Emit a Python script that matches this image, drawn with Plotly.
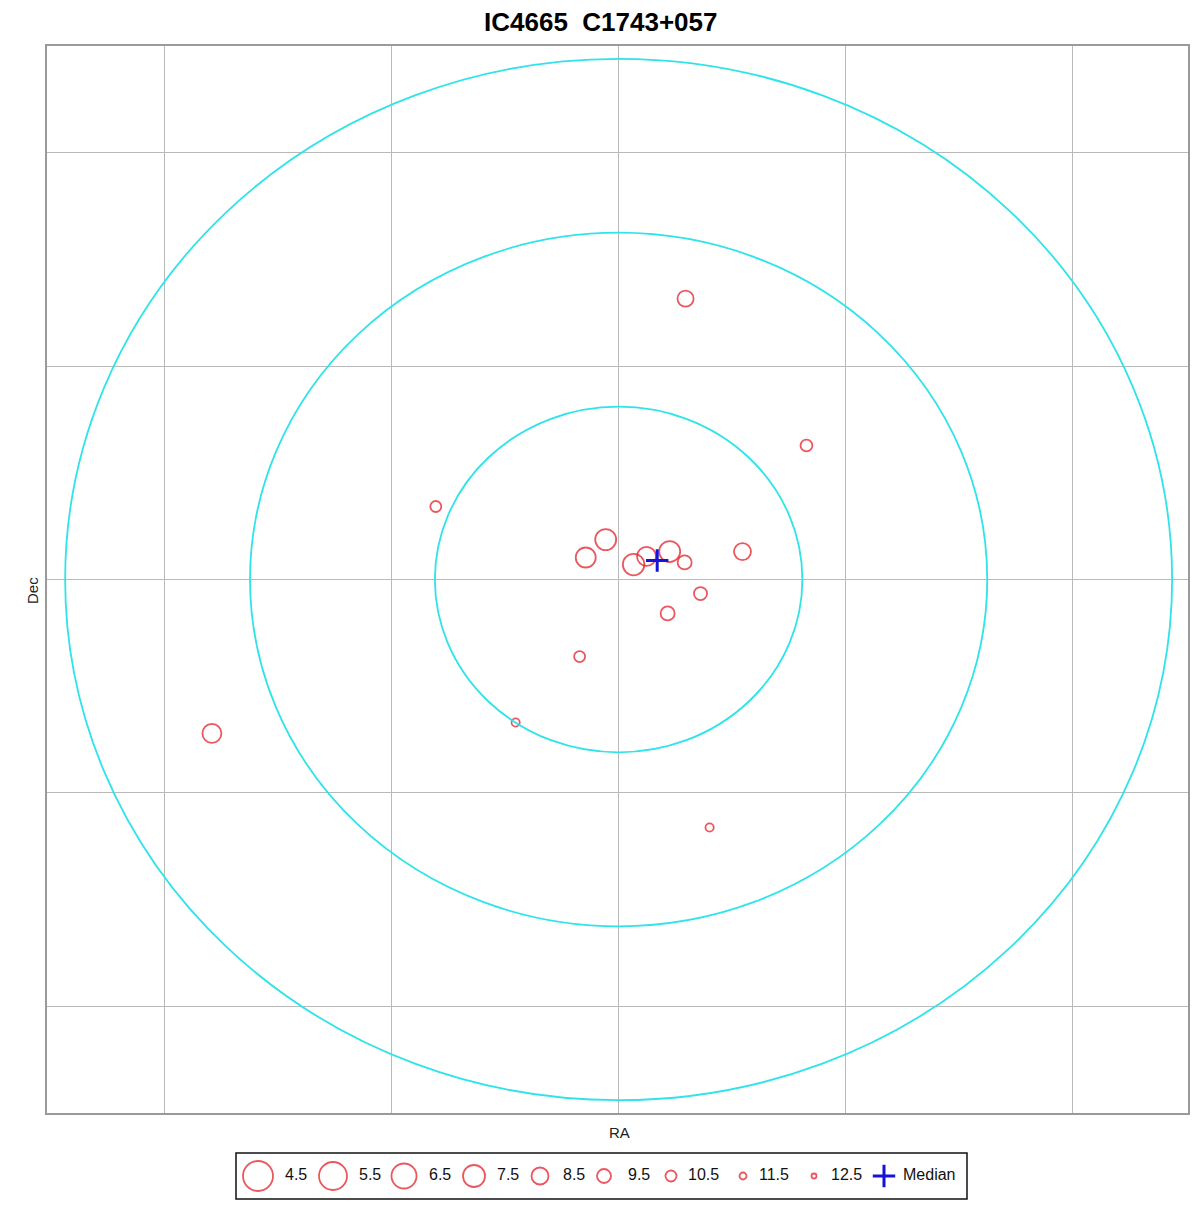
import numpy as np
import plotly.graph_objects as go

W, H = 1200, 1205
FONT = "Liberation Sans, Arial, sans-serif"
RED = "#e2101a"
CYAN = "#2ee3ea"
BLUE = "#1414d8"
GRID = "#b9b9b9"

TITLE = "IC4665&nbsp; C1743+057"

# star offsets from cluster centre (grid units) and V magnitudes
star_x = [-0.806, -0.057, -0.145, 0.066, 0.123, 0.225, 0.291, 0.546,
          0.361, 0.216, -0.172, 0.295, 0.828, -0.454, -1.793, 0.401]
star_y = [0.342, 0.187, 0.103, 0.070, 0.108, 0.131, 0.080, 0.131,
          -0.066, -0.159, -0.361, 1.316, 0.628, -0.670, -0.721, -1.162]
star_mag = [10.5, 7.7, 7.9, 7.6, 8.1, 7.7, 9.5, 8.5,
            9.8, 9.5, 10.5, 8.8, 10.2, 11.2, 8.1, 11.2]

median_x = [0.170]
median_y = [0.089]

ring_radii = [0.81, 1.625, 2.44]

legend_mags = [4.5, 5.5, 6.5, 7.5, 8.5, 9.5, 10.5, 11.5, 12.5]
legend_labels = ["4.5", "5.5", "6.5", "7.5", "8.5", "9.5", "10.5", "11.5", "12.5"]
# marker diameter (px) drawn for each legend magnitude
legend_diam = [30, 28, 25, 22, 17, 14, 11, 7, 5]

# legend layout (pixel positions)
LEG_GLYPH_X = [258, 333, 404, 474, 540, 604, 671, 743, 814]
LEG_TEXT_X = [285, 359, 429, 497, 563, 628, 688, 759, 831]
LEG_MED_X, LEG_MED_TEXT_X = 884, 903
LEG_BOX = (236, 1153, 967, 1199)

PLOT_L, PLOT_R, PLOT_T, PLOT_B = 47, 1188, 46, 1113


def mag_size(m):
    return np.interp(m, legend_mags, legend_diam)


fig = go.Figure()

fig.add_trace(go.Scatter(
    x=star_x, y=star_y, mode="markers",
    marker=dict(symbol="circle-open", size=mag_size(np.array(star_mag)),
                color=RED, line=dict(width=1.8, color=RED)),
    hoverinfo="skip", showlegend=False,
))
fig.add_trace(go.Scatter(
    x=median_x, y=median_y, mode="markers",
    marker=dict(symbol="cross-thin", size=16, line=dict(width=3, color=BLUE)),
    showlegend=False,
))

for r in ring_radii:
    fig.add_shape(type="circle", xref="x", yref="y", x0=-r, x1=r, y0=-r, y1=r,
                  line=dict(color=CYAN, width=1.8), layer="above")

# hand-built legend on a second pair of axes
fig.add_trace(go.Scatter(
    x=LEG_GLYPH_X, y=[0.5] * len(LEG_GLYPH_X), xaxis="x2", yaxis="y2", mode="markers",
    marker=dict(symbol="circle-open", size=legend_diam, color=RED,
                line=dict(width=1.8, color=RED)),
    showlegend=False, hoverinfo="skip",
))
fig.add_trace(go.Scatter(
    x=[LEG_MED_X], y=[0.5], xaxis="x2", yaxis="y2", mode="markers",
    marker=dict(symbol="cross-thin", size=16, line=dict(width=3, color=BLUE)),
    showlegend=False, hoverinfo="skip",
))
fig.add_trace(go.Scatter(
    x=LEG_TEXT_X + [LEG_MED_TEXT_X], y=[0.5] * (len(LEG_TEXT_X) + 1),
    xaxis="x2", yaxis="y2", mode="text",
    text=legend_labels + ["Median"], textposition="middle right",
    textfont=dict(family=FONT, size=16, color="#111"),
    showlegend=False, hoverinfo="skip",
))

bx0, by0, bx1, by1 = LEG_BOX
fig.add_shape(type="rect", xref="paper", yref="paper",
              x0=bx0 / W, x1=bx1 / W, y0=1 - by1 / H, y1=1 - by0 / H,
              line=dict(color="#111", width=1.5))

fig.add_annotation(text="<b>" + TITLE + "</b>", xref="paper", yref="paper",
                   x=600 / W, y=1 - 22 / H, showarrow=False,
                   xanchor="center", yanchor="middle",
                   font=dict(family=FONT, size=26, color="#000"))
fig.add_annotation(text="RA", xref="paper", yref="paper",
                   x=619 / W, y=1 - 1132 / H, showarrow=False,
                   xanchor="center", yanchor="middle",
                   font=dict(family=FONT, size=15, color="#222"))
fig.add_annotation(text="Dec", xref="paper", yref="paper",
                   x=32 / W, y=1 - 591 / H, showarrow=False, textangle=-90,
                   xanchor="center", yanchor="middle",
                   font=dict(family=FONT, size=15, color="#222"))

fig.update_layout(
    width=W, height=H,
    margin=dict(l=0, r=0, t=0, b=0),
    paper_bgcolor="white", plot_bgcolor="white",
    font=dict(family=FONT),
    xaxis=dict(domain=[PLOT_L / W, PLOT_R / W], range=[-2.52, 2.51],
               dtick=1, tick0=0, showticklabels=False, ticks="",
               showgrid=True, gridcolor=GRID, gridwidth=1, zeroline=False,
               showline=True, linecolor="#9a9a9a", linewidth=2, mirror=True),
    yaxis=dict(domain=[1 - PLOT_B / H, 1 - PLOT_T / H], range=[-2.5, 2.5],
               dtick=1, tick0=0, showticklabels=False, ticks="",
               showgrid=True, gridcolor=GRID, gridwidth=1, zeroline=False,
               showline=True, linecolor="#9a9a9a", linewidth=2, mirror=True),
    xaxis2=dict(domain=[0, 1], range=[0, W], visible=False, anchor="y2"),
    yaxis2=dict(domain=[1 - by1 / H, 1 - by0 / H], range=[0, 1], visible=False, anchor="x2"),
    showlegend=False,
)

fig.write_html("out.html", config={"displayModeBar": False},
               post_script="document.body.style.margin='0';")
